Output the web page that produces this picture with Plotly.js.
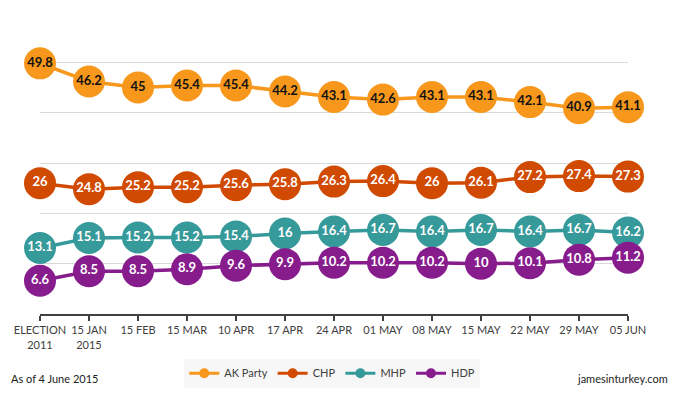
<!DOCTYPE html>
<html>
<head>
<meta charset="utf-8">
<script src="https://cdn.plot.ly/plotly-3.0.1.min.js"></script>
<style>html,body{margin:0;padding:0;background:#fff;}#chart{width:680px;height:400px;}</style>
</head>
<body>
<div id="chart"></div>
<script>
var categories = ["ELECTION<br>2011", "15 JAN<br>2015", "15 FEB", "15 MAR", "10 APR", "17 APR", "24 APR", "01 MAY", "08 MAY", "15 MAY", "22 MAY", "29 MAY", "05 JUN"];
var akParty = [49.8, 46.2, 45, 45.4, 45.4, 44.2, 43.1, 42.6, 43.1, 43.1, 42.1, 40.9, 41.1];
var chp = [26, 24.8, 25.2, 25.2, 25.6, 25.8, 26.3, 26.4, 26, 26.1, 27.2, 27.4, 27.3];
var mhp = [13.1, 15.1, 15.2, 15.2, 15.4, 16, 16.4, 16.7, 16.4, 16.7, 16.4, 16.7, 16.2];
var hdp = [6.6, 8.5, 8.5, 8.9, 9.6, 9.9, 10.2, 10.2, 10.2, 10, 10.1, 10.8, 11.2];
var seriesNames = ["AK Party", "CHP", "MHP", "HDP"];
var seriesColors = ["#F7981D", "#D04A02", "#36999A", "#871C8C"];
var labelColors = ["#111111", "#ffffff", "#ffffff", "#ffffff"];
var seriesData = [akParty, chp, mhp, hdp];

var FONT = "Lato, 'Open Sans', sans-serif";
var traces = seriesData.map(function (vals, i) {
  return {
    type: "scatter",
    mode: "lines+markers+text",
    name: seriesNames[i],
    x: categories,
    y: vals,
    text: vals.map(String),
    textposition: "middle center",
    textfont: {family: FONT, size: 13, color: labelColors[i], weight: "bold"},
    line: {color: seriesColors[i], width: 3.5},
    marker: {color: seriesColors[i], size: 32},
    cliponaxis: false,
    showlegend: false,
    hoverinfo: "skip"
  };
});
// legend-only entries with small symbols
seriesNames.forEach(function (name, i) {
  traces.push({
    type: "scatter",
    mode: "lines+markers",
    name: name,
    x: [null],
    y: [null],
    line: {color: seriesColors[i], width: 3},
    marker: {color: seriesColors[i], size: 10},
    showlegend: true,
    hoverinfo: "skip"
  });
});

var layout = {
  width: 680,
  height: 400,
  margin: {l: 40, r: 52, t: 12, b: 84},
  paper_bgcolor: "#ffffff",
  plot_bgcolor: "#ffffff",
  font: {family: FONT, size: 11, color: "#404040"},
  showlegend: true,
  legend: {
    orientation: "h",
    x: 0.497, xanchor: "center",
    y: -0.148, yanchor: "top",
    bgcolor: "#f7f7f7",
    font: {family: FONT, size: 11, color: "#404040"},
    itemsizing: "trace",
    itemwidth: 30,
    tracegroupgap: 0
  },
  xaxis: {
    type: "category",
    range: [0, 12],
    showgrid: false,
    showline: true,
    linecolor: "#404040",
    linewidth: 2,
    ticks: "outside",
    ticklen: 5,
    tickwidth: 2,
    tickcolor: "#404040",
    tickfont: {family: FONT, size: 11, color: "#404040"},
    fixedrange: true
  },
  yaxis: {
    range: [0, 60],
    dtick: 10,
    showgrid: true,
    gridcolor: "#d9d9d9",
    gridwidth: 1,
    zeroline: false,
    showticklabels: false,
    fixedrange: true
  },
  annotations: [
    {text: "As of 4 June 2015", xref: "paper", yref: "paper", x: -0.052, xanchor: "left", y: -0.215, yanchor: "middle", showarrow: false, font: {family: FONT, size: 11, color: "#222222"}},
    {text: "jamesinturkey.com", xref: "paper", yref: "paper", x: 1.071, xanchor: "right", y: -0.215, yanchor: "middle", showarrow: false, font: {family: FONT, size: 11, color: "#222222"}}
  ]
};

Plotly.newPlot("chart", traces, layout, {displayModeBar: false, staticPlot: true});
</script>
</body>
</html>
